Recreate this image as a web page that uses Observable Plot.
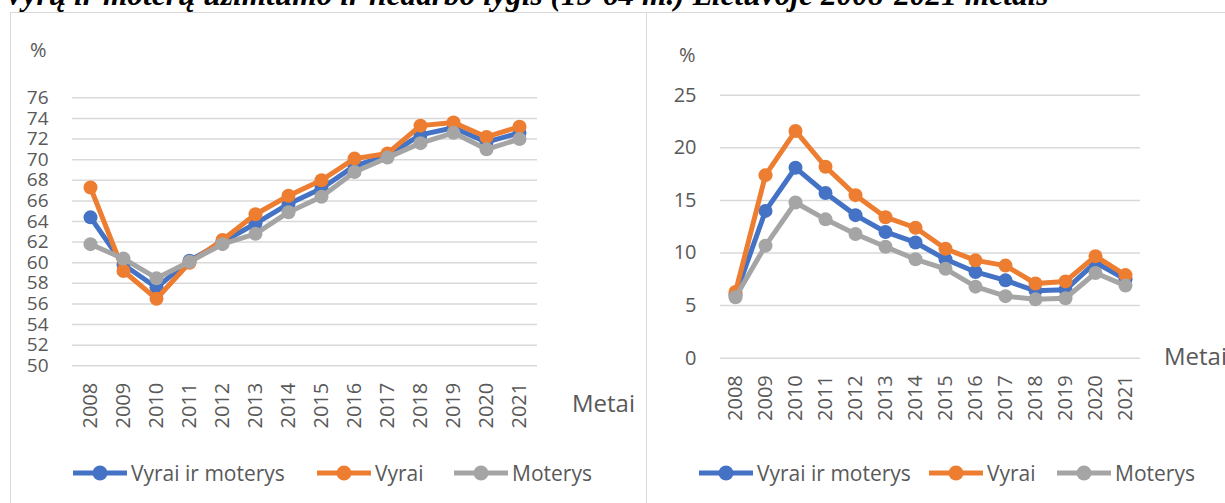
<!DOCTYPE html>
<html><head><meta charset="utf-8">
<script src="https://cdn.jsdelivr.net/npm/d3@7"></script>
<script src="https://cdn.jsdelivr.net/npm/@observablehq/plot@0.6"></script>
<style>
html,body{margin:0;padding:0;background:#fff;}
body{width:1225px;height:503px;overflow:hidden;position:relative;font-family:"Open Sans",sans-serif;color:#595959;}
.abs{position:absolute;white-space:nowrap;}
.frame{position:absolute;border:1.5px solid #d9d9d9;box-sizing:border-box;}
.lg{position:absolute;display:flex;align-items:center;font-size:21px;color:#595959;white-space:nowrap;}
.lg svg{display:block;margin-right:3px;}
</style></head><body>
<script>
// ---- data ----
const years = [2008,2009,2010,2011,2012,2013,2014,2015,2016,2017,2018,2019,2020,2021];
const seriesNames = ["Vyrai ir moterys","Vyrai","Moterys"];
const seriesColors = ["#4472C4","#ED7D31","#A5A5A5"];
// Užimtumo lygis (employment rate), %
const empTotal = [64.4,59.8,57.6,60.2,62.0,63.8,65.7,67.2,69.4,70.4,72.4,73.1,71.7,72.6];
const empMen   = [67.3,59.2,56.5,60.0,62.2,64.7,66.5,68.0,70.1,70.6,73.3,73.6,72.2,73.2];
const empWomen = [61.8,60.4,58.5,60.1,61.8,62.8,64.9,66.4,68.8,70.2,71.6,72.6,71.0,72.0];
// Nedarbo lygis (unemployment rate), %
const unTotal = [6.0,14.0,18.1,15.7,13.6,12.0,11.0,9.4,8.2,7.4,6.4,6.5,9.1,7.5];
const unMen   = [6.3,17.4,21.6,18.2,15.5,13.4,12.4,10.4,9.3,8.8,7.1,7.3,9.7,7.9];
const unWomen = [5.8,10.7,14.8,13.2,11.8,10.6,9.4,8.5,6.8,5.9,5.6,5.7,8.1,6.9];
const empTicks = [50,52,54,56,58,60,62,64,66,68,70,72,74,76];
const unTicks = [0,5,10,15,20,25];
const titleText = "Vyrų ir moterų užimtumo ir nedarbo lygis (15-64 m.) Lietuvoje 2008-2021 metais";
const axisUnit = "%";
const xAxisName = "Metai";

// ---- helpers ----
function makePanel(values, ticks, opts) {
  const marks = [Plot.ruleY(ticks, {stroke: "#d9d9d9", strokeWidth: 1.5})];
  seriesNames.forEach((s, i) => {
    const d = years.map((y, j) => ({year: String(y), value: values[i][j], series: s}));
    marks.push(Plot.lineY(d, {x: "year", y: "value", stroke: seriesColors[i], strokeWidth: 5, strokeLinejoin: "round"}));
    marks.push(Plot.dot(d, {x: "year", y: "value", fill: seriesColors[i], r: 7}));
  });
  marks.push(Plot.axisX({tickRotate: -90, tickSize: 0, tickPadding: opts.xPad, fontSize: 20, label: null, fill: "#595959"}));
  marks.push(Plot.axisY({ticks, tickSize: 0, tickPadding: opts.yPad, fontSize: opts.yFont, label: null, fill: "#595959"}));
  return Plot.plot({
    width: opts.width, height: opts.height,
    marginTop: opts.mt, marginBottom: opts.mb, marginLeft: opts.ml, marginRight: opts.mr,
    x: {type: "point", domain: years.map(String), padding: 0.5},
    y: {domain: opts.domain},
    style: {fontFamily: "'Open Sans', sans-serif", color: "#595959", background: "transparent", overflow: "visible"},
    marks
  });
}
function addText(txt, left, top, size) {
  const d = document.createElement("div");
  d.className = "abs"; d.textContent = txt;
  d.style.left = left + "px"; d.style.top = top + "px"; d.style.fontSize = size + "px"; d.style.lineHeight = "1";
  document.body.appendChild(d);
}
function addLegend(positions, top) {
  seriesNames.forEach((s, i) => {
    const it = document.createElement("div");
    it.className = "lg";
    it.style.left = positions[i] + "px"; it.style.top = top + "px";
    it.innerHTML = `<svg width="56" height="18"><line x1="1" y1="9" x2="55" y2="9" stroke="${seriesColors[i]}" stroke-width="5"/><circle cx="28" cy="9" r="7.5" fill="${seriesColors[i]}"/></svg><span></span>`;
    it.querySelector("span").textContent = s;
    document.body.appendChild(it);
  });
}

// ---- frames ----
const f1 = document.createElement("div"); f1.className = "frame";
Object.assign(f1.style, {left: "10px", top: "12px", width: "637px", height: "600px"});
document.body.appendChild(f1);
const f2 = document.createElement("div"); f2.className = "frame";
Object.assign(f2.style, {left: "646px", top: "12px", width: "700px", height: "600px"});
document.body.appendChild(f2);

// ---- title (clipped at top, as in the source) ----
const ns = "http://www.w3.org/2000/svg";
const tsvg = document.createElementNS(ns, "svg");
tsvg.setAttribute("width", 1225); tsvg.setAttribute("height", 14);
tsvg.style.position = "absolute"; tsvg.style.left = "0px"; tsvg.style.top = "0px";
const tt = document.createElementNS(ns, "text");
tt.setAttribute("x", 4); tt.setAttribute("y", 5);
tt.setAttribute("font-family", "'Liberation Serif', 'Times New Roman', serif");
tt.setAttribute("font-style", "italic"); tt.setAttribute("font-weight", "bold");
tt.setAttribute("font-size", 26); tt.setAttribute("fill", "#000");
tt.textContent = titleText;
tsvg.appendChild(tt);
document.body.appendChild(tsvg);
const w = tt.getComputedTextLength();
if (w > 0) tt.setAttribute("font-size", (26 * 1045 / w).toFixed(2));

// ---- left panel: employment ----
const p1 = makePanel([empTotal, empMen, empWomen], empTicks,
  {width: 646, height: 440, mt: 97.3, mb: 440 - 365.3, ml: 72, mr: 646 - 537, domain: [50, 76], xPad: 17, yPad: 24, yFont: 19});
p1.style.position = "absolute"; p1.style.left = "0px"; p1.style.top = "0px";
document.body.appendChild(p1);

// ---- right panel: unemployment ----
const p2 = makePanel([unTotal, unMen, unWomen], unTicks,
  {width: 579, height: 440, mt: 94.7, mb: 440 - 357.7, ml: 74, mr: 85, domain: [0, 25], xPad: 17, yPad: 24, yFont: 20});
p2.style.position = "absolute"; p2.style.left = "646px"; p2.style.top = "0px";
document.body.appendChild(p2);

// ---- axis names ----
addText(axisUnit, 30, 40, 20);
addText(axisUnit, 679, 45, 20);
addText(xAxisName, 572, 391, 24);
addText(xAxisName, 1164, 344, 24);

// ---- legends ----
addLegend([72, 316, 453], 459);
addLegend([698, 928, 1056], 459);
</script>
</body></html>
